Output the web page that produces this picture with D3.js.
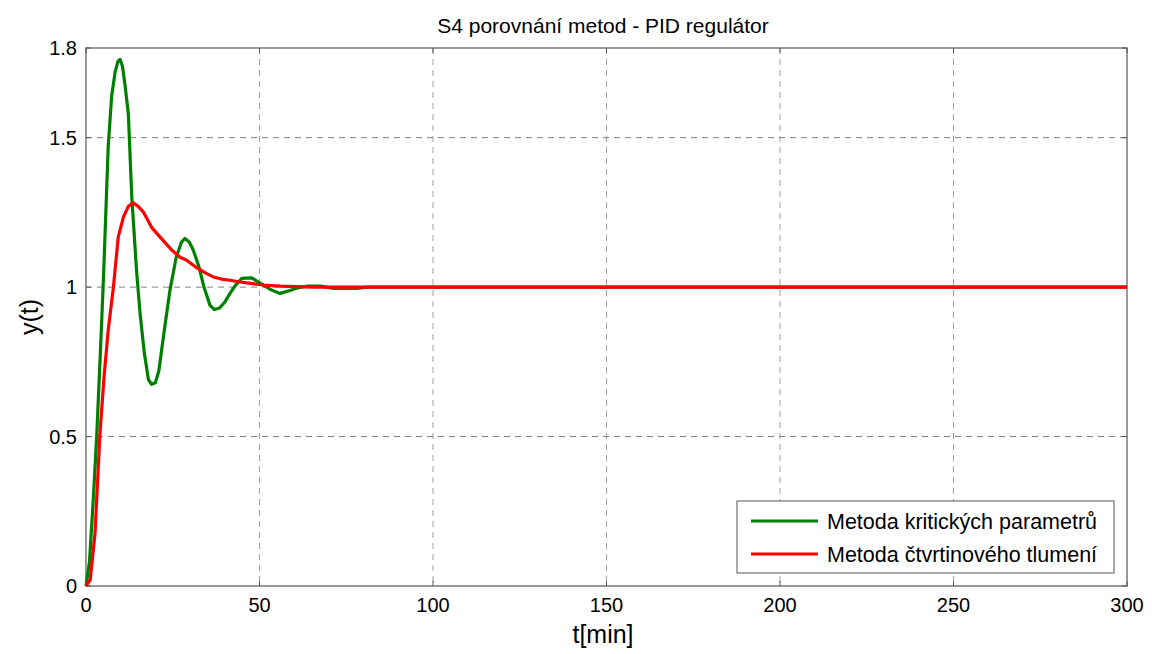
<!DOCTYPE html>
<html>
<head>
<meta charset="utf-8">
<script src="https://cdn.jsdelivr.net/npm/d3@7"></script>
<style>
  body { margin: 0; background: #fff; }
  text { font-family: "Liberation Sans", Arial, sans-serif; }
</style>
</head>
<body>
<svg id="chart" width="1152" height="654"></svg>
<script>

// green - metoda kritickych parametru
const tGreen = [0, 1, 2.1, 3.1, 4.1, 5.0, 6.4, 7.4, 8.4, 9.2, 9.8, 10.5, 11.2, 12.2, 13.2, 14.6, 15.6, 16.8, 18.0, 18.9, 20.0, 21.0, 22.5, 24.2, 26.0, 27.5, 28.5, 29.8, 30.9, 32.5, 34.0, 35.7, 37.0, 38.5, 40.0, 41.5, 43.0, 44.9, 47.8, 49.5, 51.1, 53.5, 55.9, 58.5, 60.7, 63.6, 67.9, 71.3, 78, 81, 300];
const yGreen = [0, 0.08, 0.29, 0.505, 0.77, 1.02, 1.47, 1.64, 1.72, 1.755, 1.762, 1.74, 1.68, 1.58, 1.30, 1.05, 0.91, 0.78, 0.69, 0.675, 0.68, 0.72, 0.85, 0.99, 1.10, 1.15, 1.163, 1.15, 1.124, 1.07, 1.00, 0.94, 0.925, 0.93, 0.95, 0.979, 1.005, 1.029, 1.031, 1.018, 1.007, 0.99, 0.979, 0.988, 0.996, 1.003, 1.003, 0.996, 0.996, 1.0, 1.0];

// red - metoda ctvrtinoveho tlumeni
const tRed = [0, 1.2, 2.6, 4.0, 5.2, 6.4, 7.9, 9.3, 10.8, 12.2, 13.6, 15.0, 16.5, 18.9, 21.3, 24.7, 27.1, 29.0, 31.9, 34.5, 36.7, 39.0, 41.5, 44.0, 46.3, 51.1, 55.9, 65.5, 300];
const yRed = [0, 0.02, 0.176, 0.505, 0.70, 0.856, 1.0, 1.168, 1.235, 1.27, 1.282, 1.27, 1.252, 1.20, 1.168, 1.124, 1.10, 1.09, 1.065, 1.047, 1.034, 1.027, 1.023, 1.018, 1.014, 1.007, 1.003, 1.0, 1.0];

const xTicks = [0, 50, 100, 150, 200, 250, 300];
const yTicks = [0, 0.5, 1, 1.5, 1.8];
const yTickLabels = ["0", "0.5", "1", "1.5", "1.8"];

const title = "S4 porovnání metod - PID regulátor";
const xLabel = "t[min]";
const yLabel = "y(t)";
const legendNames = ["Metoda kritických parametrů", "Metoda čtvrtinového tlumení"];
const colors = ["#008000", "#ff0000"];

const margin = {left: 86, top: 48, right: 25, bottom: 68};
const W = 1152, H = 654;
const width = W - margin.left - margin.right;
const height = H - margin.top - margin.bottom;

const svg = d3.select("#chart");
const g = svg.append("g").attr("transform", `translate(${margin.left}, ${margin.top})`);

const x = d3.scaleLinear().domain([0, 300]).range([0, width]);
const y = d3.scaleLinear().domain([0, 1.8]).range([height, 0]);

// grid
g.append("g").selectAll("line")
        .data(xTicks.slice(1, -1))
        .join("line")
        .attr("x1", d => x(d)).attr("x2", d => x(d))
        .attr("y1", 0).attr("y2", height)
        .attr("stroke", "#a0a0a0").attr("stroke-dasharray", "6,5").attr("stroke-width", 1)

g.append("g").selectAll("line")
        .data(yTicks.slice(1, -1))
        .join("line")
        .attr("y1", d => y(d)).attr("y2", d => y(d))
        .attr("x1", 0).attr("x2", width)
        .attr("stroke", "#808080").attr("stroke-dasharray", "6,5").attr("stroke-width", 1)

// frame
g.append("rect")
        .attr("x", 0).attr("y", 0).attr("width", width).attr("height", height)
        .attr("fill", "none").attr("stroke", "#555").attr("stroke-width", 1.2)

// inward ticks on all sides
const tl = 5;
xTicks.forEach(d => {
        g.append("line").attr("x1", x(d)).attr("x2", x(d)).attr("y1", height).attr("y2", height - tl).attr("stroke", "#555")
        g.append("line").attr("x1", x(d)).attr("x2", x(d)).attr("y1", 0).attr("y2", tl).attr("stroke", "#555")
})
yTicks.forEach(d => {
        g.append("line").attr("y1", y(d)).attr("y2", y(d)).attr("x1", 0).attr("x2", tl).attr("stroke", "#555")
        g.append("line").attr("y1", y(d)).attr("y2", y(d)).attr("x1", width).attr("x2", width - tl).attr("stroke", "#555")
})

// tick labels
g.append("g").selectAll("text")
        .data(xTicks)
        .join("text")
        .attr("x", d => x(d)).attr("y", height + 26)
        .attr("text-anchor", "middle").attr("font-size", 20)
        .text(d => d)

g.append("g").selectAll("text")
        .data(yTicks)
        .join("text")
        .attr("x", -9).attr("y", d => y(d) + 7)
        .attr("text-anchor", "end").attr("font-size", 20)
        .text((d, i) => yTickLabels[i])

// lines
const line = d3.line().x(d => x(d[0])).y(d => y(d[1]));
const series = [d3.zip(tGreen, yGreen), d3.zip(tRed, yRed)];

series.forEach((s, i) => {
        g.append("path")
                .datum(s)
                .attr("d", line)
                .attr("fill", "none")
                .attr("stroke", colors[i])
                .attr("stroke-width", 3.2)
                .attr("stroke-linejoin", "round")
})

// titles
svg.append("text").attr("x", 603).attr("y", 33).attr("text-anchor", "middle")
        .attr("font-size", 21).text(title)
svg.append("text").attr("x", 603).attr("y", 643).attr("text-anchor", "middle")
        .attr("font-size", 25).text(xLabel)
svg.append("text").attr("transform", "translate(38, 317) rotate(-90)").attr("text-anchor", "middle")
        .attr("font-size", 25).text(yLabel)

// legend
const legend = svg.append("g").attr("transform", "translate(737, 501)");
legend.append("rect").attr("width", 377).attr("height", 72)
        .attr("fill", "#fff").attr("stroke", "#555").attr("stroke-width", 1)

legendNames.forEach((n, i) => {
        legend.append("line")
                .attr("x1", 14).attr("x2", 81)
                .attr("y1", 20 + i * 33).attr("y2", 20 + i * 33)
                .attr("stroke", colors[i]).attr("stroke-width", 3.2)
        legend.append("text")
                .attr("x", 90).attr("y", 28 + i * 33)
                .attr("font-size", 21.5).text(n)
})

</script>
</body>
</html>
